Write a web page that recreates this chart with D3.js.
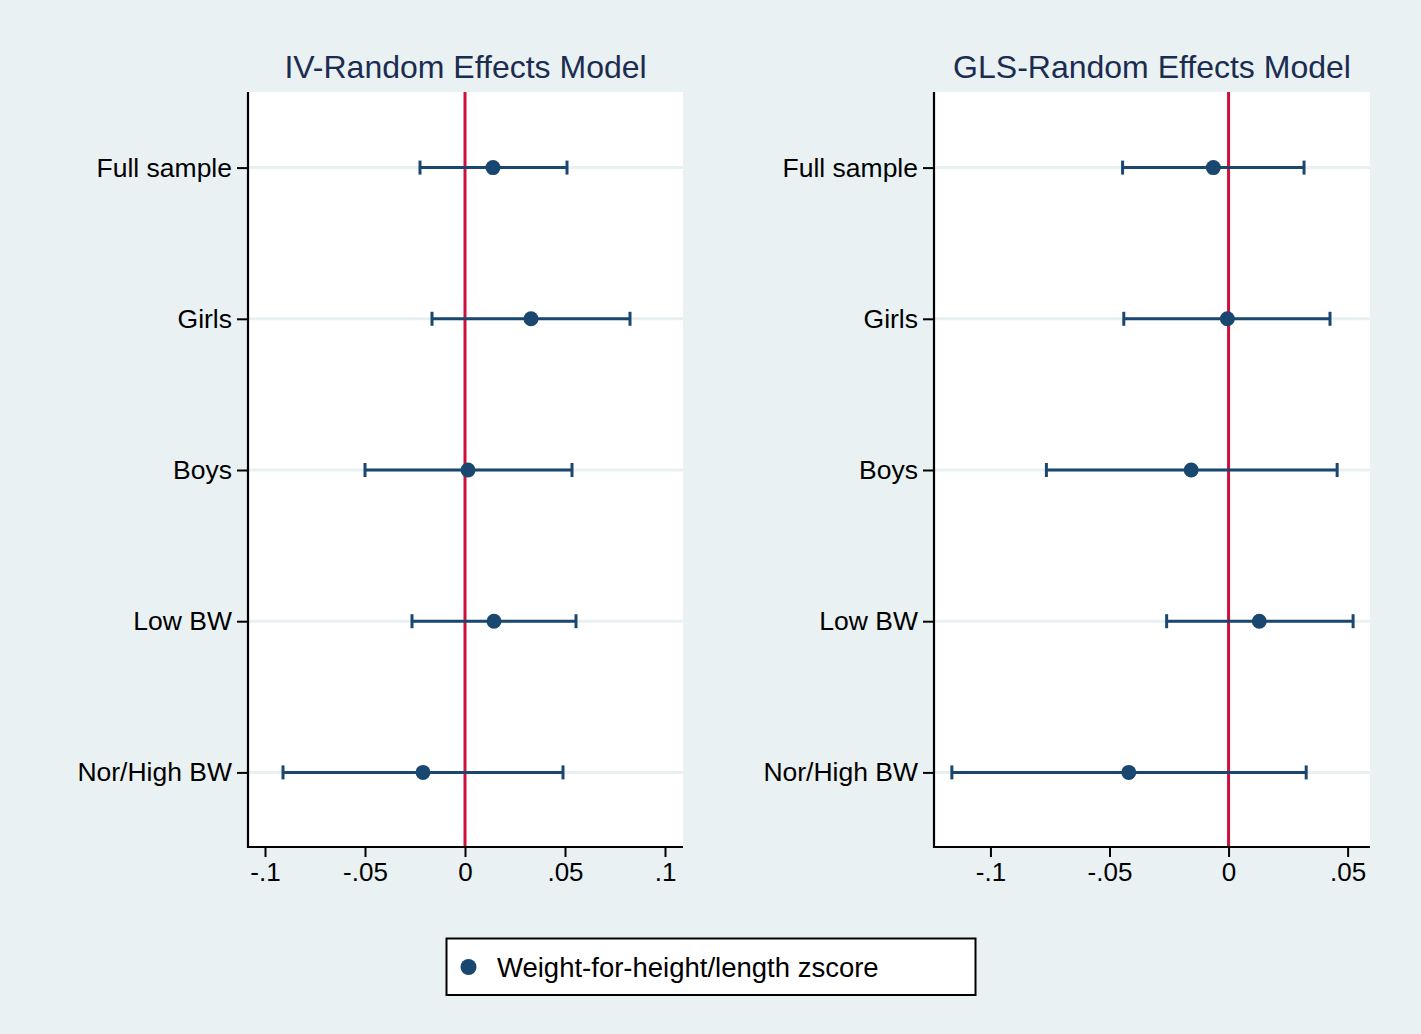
<!DOCTYPE html>
<html>
<head>
<meta charset="utf-8">
<script src="https://cdn.jsdelivr.net/npm/d3@7"></script>
<style>
  html, body { margin: 0; padding: 0; background: #e9f1f3; }
  svg { display: block; }
  text { font-family: "Liberation Sans", Arial, Helvetica, sans-serif; }
</style>
</head>
<body>
<svg id="chart" width="1421" height="1034"></svg>
<script>
// ---------------- data ----------------
const categories = ["Full sample", "Girls", "Boys", "Low BW", "Nor/High BW"];

const ivEst  = [0.014, 0.033, 0.0015, 0.0145, -0.021];
const ivLow  = [-0.0225, -0.0165, -0.050, -0.0265, -0.091];
const ivHigh = [0.051, 0.0825, 0.0535, 0.0555, 0.049];

const glsEst  = [-0.0064, -0.0005, -0.0157, 0.0129, -0.0419];
const glsLow  = [-0.0445, -0.044, -0.0765, -0.026, -0.1162];
const glsHigh = [0.0317, 0.0426, 0.0456, 0.0523, 0.0326];

const ivTicks  = [-0.1, -0.05, 0, 0.05, 0.1];
const ivTickLabels = ["-.1", "-.05", "0", ".05", ".1"];
const glsTicks = [-0.1, -0.05, 0, 0.05];
const glsTickLabels = ["-.1", "-.05", "0", ".05"];

const titles = ["IV-Random Effects Model", "GLS-Random Effects Model"];
const legendLabel = "Weight-for-height/length zscore";

// ---------------- style ----------------
const navy = "#1a476f";
const red = "#d0103a";
const titleColor = "#1c2c50";
const gridColor = "#e8f0f2";

const svg = d3.select("#chart");
svg.append("rect").attr("width", 1421).attr("height", 1034).attr("fill", "#e9f1f3");

const plotTop = 92, plotBottom = 848;
const y = d3.scaleLinear().domain([0.5, 5.5]).range([plotTop, plotBottom]);

const panels = [
  { title: titles[0], est: ivEst, low: ivLow, high: ivHigh, ticks: ivTicks, labels: ivTickLabels,
    x: d3.scaleLinear().domain([-0.1085, 0.109]).range([248, 683]) },
  { title: titles[1], est: glsEst, low: glsLow, high: glsHigh, ticks: glsTicks, labels: glsTickLabels,
    x: d3.scaleLinear().domain([-0.1237, 0.0594]).range([934, 1370]) }
];

panels.forEach(p => {
  const [x0, x1] = p.x.range();
  const g = svg.append("g");

  // plot region
  g.append("rect").attr("x", x0).attr("y", plotTop).attr("width", x1 - x0).attr("height", plotBottom - plotTop).attr("fill", "#ffffff");

  // grid lines
  g.selectAll(".grid").data(categories).enter().append("line")
    .attr("x1", x0).attr("x2", x1)
    .attr("y1", (d, i) => y(i + 1)).attr("y2", (d, i) => y(i + 1))
    .attr("stroke", gridColor).attr("stroke-width", 3);

  // zero reference line
  g.append("line")
    .attr("x1", p.x(0)).attr("x2", p.x(0)).attr("y1", plotTop).attr("y2", plotBottom)
    .attr("stroke", red).attr("stroke-width", 3);

  // error bars
  const eb = g.selectAll(".eb").data(categories).enter().append("g");
  eb.append("line")
    .attr("x1", (d, i) => p.x(p.low[i])).attr("x2", (d, i) => p.x(p.high[i]))
    .attr("y1", (d, i) => y(i + 1)).attr("y2", (d, i) => y(i + 1))
    .attr("stroke", navy).attr("stroke-width", 3);
  eb.append("line")
    .attr("x1", (d, i) => p.x(p.low[i])).attr("x2", (d, i) => p.x(p.low[i]))
    .attr("y1", (d, i) => y(i + 1) - 7).attr("y2", (d, i) => y(i + 1) + 7)
    .attr("stroke", navy).attr("stroke-width", 3);
  eb.append("line")
    .attr("x1", (d, i) => p.x(p.high[i])).attr("x2", (d, i) => p.x(p.high[i]))
    .attr("y1", (d, i) => y(i + 1) - 7).attr("y2", (d, i) => y(i + 1) + 7)
    .attr("stroke", navy).attr("stroke-width", 3);
  eb.append("circle")
    .attr("cx", (d, i) => p.x(p.est[i])).attr("cy", (d, i) => y(i + 1))
    .attr("r", 7.5).attr("fill", navy);

  // x axis
  const xAxis = d3.axisBottom(p.x).tickValues(p.ticks)
    .tickFormat((d, i) => p.labels[i]).tickSize(10).tickSizeOuter(0).tickPadding(6);
  const xg = g.append("g").attr("transform", `translate(0,${plotBottom - 1})`).call(xAxis);
  xg.select(".domain").attr("stroke", "#000").attr("stroke-width", 2.2)
    .attr("d", `M${x0 - 1},0H${x1}`);
  xg.selectAll(".tick line").attr("stroke", "#000").attr("stroke-width", 2);
  xg.selectAll(".tick text").attr("font-size", 26).attr("fill", "#000")
    .attr("font-family", "'Liberation Sans', Arial, sans-serif");

  // y axis
  const yAxis = d3.axisLeft(y).tickValues([1, 2, 3, 4, 5])
    .tickFormat(d => categories[d - 1]).tickSize(11).tickSizeOuter(0).tickPadding(5);
  const yg = g.append("g").attr("transform", `translate(${x0},0)`).call(yAxis);
  yg.select(".domain").attr("stroke", "#000").attr("stroke-width", 2.2)
    .attr("d", `M0,${plotTop}V${plotBottom}`);
  yg.selectAll(".tick line").attr("stroke", "#000").attr("stroke-width", 2);
  yg.selectAll(".tick text").attr("font-size", 26.5).attr("fill", "#000")
    .attr("font-family", "'Liberation Sans', Arial, sans-serif");

  // title
  g.append("text")
    .attr("x", (x0 + x1) / 2).attr("y", 78)
    .attr("text-anchor", "middle").attr("font-size", 32).attr("fill", titleColor)
    .text(p.title);
});

// legend
const lg = svg.append("g");
lg.append("rect").attr("x", 446.5).attr("y", 938.5).attr("width", 529).attr("height", 56.5)
  .attr("fill", "#ffffff").attr("stroke", "#000").attr("stroke-width", 2);
lg.append("circle").attr("cx", 468.5).attr("cy", 967).attr("r", 8).attr("fill", navy);
lg.append("text").attr("x", 497).attr("y", 977).attr("font-size", 27.5).attr("fill", "#000")
  .text(legendLabel);
</script>
</body>
</html>
